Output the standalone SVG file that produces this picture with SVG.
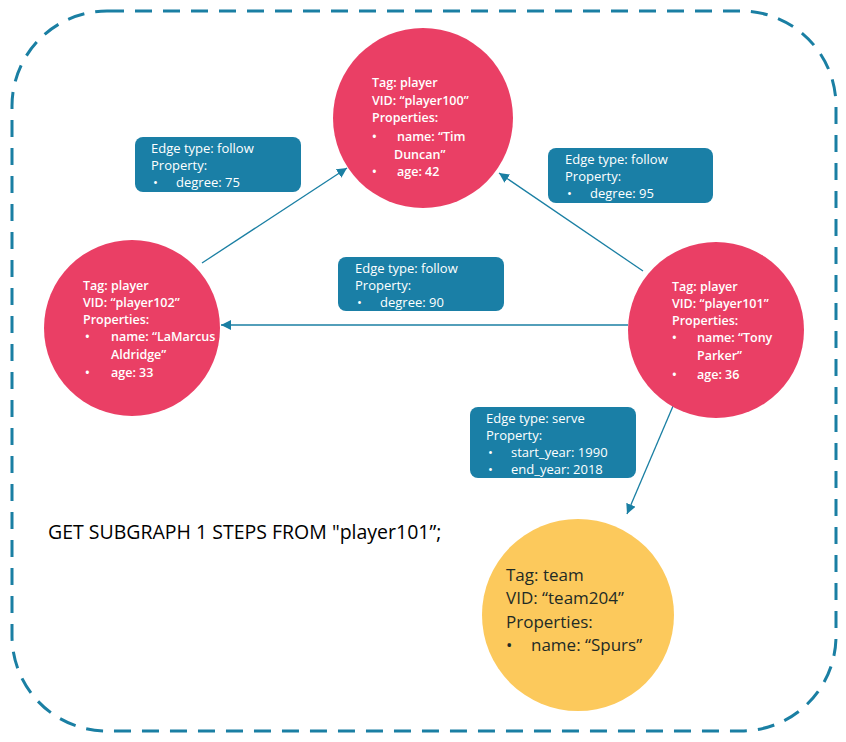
<svg xmlns="http://www.w3.org/2000/svg" width="846" height="742" viewBox="0 0 846 742">
<style>
.frame{fill:none;stroke:#1a7fa3;stroke-width:3;stroke-dasharray:17 11}
.player{fill:#ea3f65}
.team{fill:#fcc95c}
.box{fill:#1a7fa6}
.conn{stroke:#1a7fa3;stroke-width:1.3;fill:none;marker-end:url(#ah)}
.nt{font-family:"Open Sans","Liberation Sans",sans-serif;font-size:12.5px;font-weight:600;fill:#ffffff}
.tt{font-family:"Open Sans","Liberation Sans",sans-serif;font-size:17px;fill:#1e2b26}
.bt{font-family:"Open Sans","Liberation Sans",sans-serif;font-size:13px;fill:#ffffff}
.q{font-family:"Open Sans","Liberation Sans",sans-serif;font-size:19.5px;fill:#000000}
</style>
<defs>
<marker id="ah" viewBox="0 0 10 10" refX="10" refY="5" markerWidth="10" markerHeight="10" markerUnits="userSpaceOnUse" orient="auto">
<path d="M0,0 L10,5 L0,10 z" fill="#1a7fa3"/>
</marker>
</defs>
<rect class="frame" x="12" y="11" width="824" height="720" rx="95" ry="95"/>
<g id="connectors">
<line class="conn" x1="202" y1="263" x2="347" y2="168"/>
<line class="conn" x1="643" y1="271" x2="499" y2="173"/>
<line class="conn" x1="628" y1="325" x2="221" y2="325"/>
<line class="conn" x1="682" y1="385" x2="627" y2="514"/>
</g>
<g id="player100">
<circle class="player" cx="423" cy="118" r="90"/>
<text class="nt" x="372" y="87">Tag: player</text>
<text class="nt" x="372" y="105">VID: “player100”</text>
<text class="nt" x="372" y="122">Properties:</text>
<text class="nt" x="372" y="141">•</text>
<text class="nt" x="397" y="141">name: “Tim</text>
<text class="nt" x="394" y="159">Duncan”</text>
<text class="nt" x="372" y="176">•</text>
<text class="nt" x="397" y="176">age: 42</text>
</g>
<g id="player102">
<circle class="player" cx="132" cy="328" r="88"/>
<text class="nt" x="83" y="290">Tag: player</text>
<text class="nt" x="83" y="307">VID: “player102”</text>
<text class="nt" x="83" y="324">Properties:</text>
<text class="nt" x="85" y="341">•</text>
<text class="nt" x="111" y="341">name: “LaMarcus</text>
<text class="nt" x="111" y="359">Aldridge”</text>
<text class="nt" x="85" y="377">•</text>
<text class="nt" x="111" y="377">age: 33</text>
</g>
<g id="player101">
<circle class="player" cx="716" cy="330" r="88"/>
<text class="nt" x="672" y="291">Tag: player</text>
<text class="nt" x="672" y="308">VID: “player101”</text>
<text class="nt" x="672" y="325">Properties:</text>
<text class="nt" x="672" y="342">•</text>
<text class="nt" x="697" y="342">name: “Tony</text>
<text class="nt" x="697" y="360">Parker”</text>
<text class="nt" x="672" y="379">•</text>
<text class="nt" x="697" y="379">age: 36</text>
</g>
<g id="team204">
<circle class="team" cx="578" cy="615" r="96"/>
<text class="tt" x="506" y="581">Tag: team</text>
<text class="tt" x="506" y="604">VID: “team204”</text>
<text class="tt" x="506" y="628">Properties:</text>
<text class="tt" x="506" y="651">•</text>
<text class="tt" x="531" y="651">name: “Spurs”</text>
</g>
<g id="edge-label-75">
<rect class="box" x="135" y="137" width="166" height="55" rx="8"/>
<text class="bt" x="151" y="153">Edge type: follow</text>
<text class="bt" x="151" y="170">Property:</text>
<text class="bt" x="153" y="187">•</text>
<text class="bt" x="176" y="187">degree: 75</text>
</g>
<g id="edge-label-95">
<rect class="box" x="548" y="148" width="165" height="55" rx="8"/>
<text class="bt" x="565" y="164">Edge type: follow</text>
<text class="bt" x="565" y="181">Property:</text>
<text class="bt" x="567" y="198">•</text>
<text class="bt" x="590" y="198">degree: 95</text>
</g>
<g id="edge-label-90">
<rect class="box" x="338" y="257" width="166" height="54" rx="8"/>
<text class="bt" x="355" y="273">Edge type: follow</text>
<text class="bt" x="355" y="290">Property:</text>
<text class="bt" x="357" y="307">•</text>
<text class="bt" x="380" y="307">degree: 90</text>
</g>
<g id="edge-label-serve">
<rect class="box" x="470" y="407" width="166" height="71" rx="8"/>
<text class="bt" x="486" y="423">Edge type: serve</text>
<text class="bt" x="486" y="440">Property:</text>
<text class="bt" x="488" y="457">•</text>
<text class="bt" x="511" y="457">start_year: 1990</text>
<text class="bt" x="488" y="474">•</text>
<text class="bt" x="511" y="474">end_year: 2018</text>
</g>
<text id="query" class="q" x="48" y="539">GET SUBGRAPH 1 STEPS FROM "player101”;</text>
</svg>
